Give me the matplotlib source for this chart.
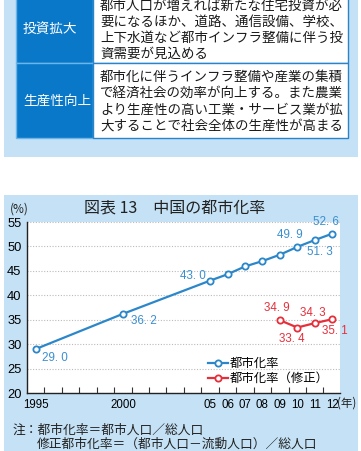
import matplotlib
matplotlib.use("Agg")
import matplotlib.pyplot as plt
from matplotlib.patches import Rectangle
from matplotlib.lines import Line2D

# ---------------- data ----------------
years = [1995, 2000, 2005, 2006, 2007, 2008, 2009, 2010, 2011, 2012]
urban_rate = [29.0, 36.2, 43.0, 44.3, 45.9, 47.0, 48.3, 49.9, 51.3, 52.6]
adj_years = [2009, 2010, 2011, 2012]
adj_rate = [34.9, 33.4, 34.3, 35.1]

xtick_years = [1995, 2000, 2005, 2006, 2007, 2008, 2009, 2010, 2011, 2012]
xtick_labels = ["1995", "2000", "05", "06", "07", "08", "09", "10", "11", "12"]
yticks = [20, 25, 30, 35, 40, 45, 50, 55]

# label years for the main series and pixel offsets
blue_label_years = [1995, 2000, 2005, 2010, 2011, 2012]
blue_label_offsets = [(6, -9, "left"), (8, -7, "left"), (-17, 5, "center"),
                      (-7, 12, "center"), (5, -12, "center"), (-6, 12, "center")]
red_label_offsets = [(-3, 12, "center"), (-5, -11, "center"), (-2, 10, "center"), (3, -12, "center")]

series_names = ["都市化率", "都市化率（修正）"]
title = "図表 13　中国の都市化率"
notes = ["注：都市化率＝都市人口／総人口", "修正都市化率＝（都市人口－流動人口）／総人口"]

table_heads = ["投資拡大", "生産性向上"]
table_rows = [
    ["都市人口が増えれば新たな住宅投資が必", "要になるほか、道路、通信設備、学校、",
     "上下水道など都市インフラ整備に伴う投", "資需要が見込める"],
    ["都市化に伴うインフラ整備や産業の集積", "で経済社会の効率が向上する。また農業",
     "より生産性の高い工業・サービス業が拡", "大することで社会全体の生産性が高まる"],
]

# ---------------- style ----------------
CJK = ["Noto Sans CJK JP", "DejaVu Sans"]
LAT = ["Liberation Sans", "DejaVu Sans"]
plt.rcParams["font.family"] = CJK

W, H = 361, 451
PANEL = "#c4e1f5"
DARK = "#0a78c8"
BLUE = "#2b87c9"
RED = "#e5303c"

fig = plt.figure(figsize=(W / 100, H / 100), dpi=100)
fig.patch.set_facecolor("white")


def fx(x):
    return x / W


def fy(y):
    return 1 - y / H


def rect(x0, y0, x1, y1, **kw):
    fig.patches.append(Rectangle((fx(x0), fy(y1)), fx(x1) - fx(x0), fy(y0) - fy(y1),
                                 transform=fig.transFigure, figure=fig, zorder=-5, **kw))


# top panel with table
rect(4, -5, 358, 157, facecolor=PANEL, edgecolor="none")
row_bounds = [(-12, 63), (63, 138)]
line_ys = [[6, 22, 38, 54], [77, 93, 110, 126]]
for (y0, y1), head, lines, lys in zip(row_bounds, table_heads, table_rows, line_ys):
    rect(16, y0, 93, y1, facecolor=DARK, edgecolor="#6ab6ea", linewidth=1)
    rect(93, y0, 348, y1, facecolor="white", edgecolor="#2a84cc", linewidth=1)
    fig.text(fx(23), fy((y0 + y1) / 2 if y0 > 0 else 29), head, color="white",
             fontsize=9.8, ha="left", va="center")
    for t, ly in zip(lines, lys):
        fig.text(fx(100), fy(ly), t, color="#1a1a1a", fontsize=9.7, ha="left", va="center")

# chart panel
rect(4, 195, 358, 460, facecolor=PANEL, edgecolor="none")

ax = fig.add_axes([fx(27), fy(393), fx(340) - fx(27), fy(222) - fy(393)])
ax.set_zorder(2)
ax.set_facecolor("white")
ax.set_xlim(1994.5, 2012.45)
ax.set_ylim(20, 55)
for s in ["top", "right"]:
    ax.spines[s].set_visible(False)
for s in ["left", "bottom"]:
    ax.spines[s].set_color("#222222")
    ax.spines[s].set_linewidth(1.0)

ax.set_yticks(yticks)
ax.set_yticklabels([str(v) for v in yticks], family=LAT, fontsize=9.3)
ax.set_xticks(xtick_years)
ax.set_xticklabels(xtick_labels, family=LAT, fontsize=8.3)
ax.set_xticks([y + 0.5 for y in range(1995, 2012)], minor=True)
ax.tick_params(axis="both", which="major", length=0)
ax.tick_params(axis="y", pad=4)
ax.tick_params(axis="x", pad=4)
ax.tick_params(axis="x", which="minor", direction="in", length=4, width=0.8, color="#333333")
ax.yaxis.grid(True, linestyle=(0, (1, 1.5)), color="#bbbbbb", linewidth=0.8)
ax.set_axisbelow(True)

ax.plot(years, urban_rate, color=BLUE, linewidth=1.6, marker="o", markersize=4.5,
        markerfacecolor="white", markeredgecolor=BLUE, markeredgewidth=1.3, clip_on=False, zorder=3)
ax.plot(adj_years, adj_rate, color=RED, linewidth=1.6, marker="o", markersize=4.5,
        markerfacecolor="white", markeredgecolor=RED, markeredgewidth=1.3, clip_on=False, zorder=3)


def fmt(v):
    return f"{v:.1f}".replace(".", ". ")


for yr, (dx, dy, ha) in zip(blue_label_years, blue_label_offsets):
    v = urban_rate[years.index(yr)]
    ax.annotate(fmt(v), (yr, v), xytext=(dx, dy), textcoords="offset pixels",
                ha=ha, va="center", color="#3a8fd0", fontsize=8.4, family=LAT, annotation_clip=False)
for yr, v, (dx, dy, ha) in zip(adj_years, adj_rate, red_label_offsets):
    ax.annotate(fmt(v), (yr, v), xytext=(dx, dy), textcoords="offset pixels",
                ha=ha, va="center", color=RED, fontsize=8.4, family=LAT, annotation_clip=False)

handles = [
    Line2D([], [], color=BLUE, linewidth=1.6, marker="o", markersize=4.5,
           markerfacecolor="white", markeredgecolor=BLUE, markeredgewidth=1.3),
    Line2D([], [], color=RED, linewidth=1.6, marker="o", markersize=4.5,
           markerfacecolor="white", markeredgecolor=RED, markeredgewidth=1.3),
]
ax.legend(handles, series_names, loc="upper left", bbox_to_anchor=(fx(208), fy(357)),
          bbox_transform=fig.transFigure, frameon=False, fontsize=8.9, handlelength=1.6,
          handletextpad=0.2, borderpad=0, borderaxespad=0, labelspacing=0.15)

fig.text(fx(19), fy(209), "(%)", fontsize=8.5, ha="center", va="center", color="#222222")
fig.text(fx(337), fy(403), "(年)", fontsize=8.3, ha="left", va="center", color="#222222")
fig.text(fx(175), fy(208), title, fontsize=11.5, ha="center", va="center", color="#222222")
fig.text(fx(13), fy(430), notes[0], fontsize=9.2, ha="left", va="center", color="#222222")
fig.text(fx(37), fy(444), notes[1], fontsize=9.2, ha="left", va="center", color="#222222")

fig.savefig("out.png", dpi=100)
